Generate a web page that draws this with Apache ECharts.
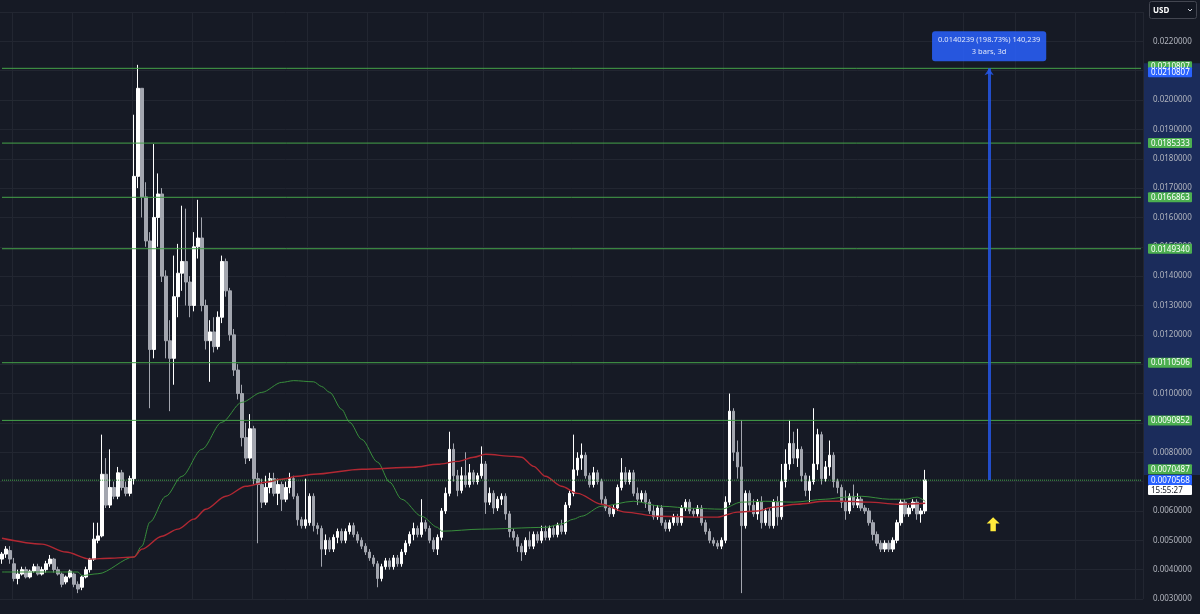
<!DOCTYPE html>
<html>
<head>
<meta charset="utf-8">
<script src="https://cdn.jsdelivr.net/npm/echarts@6/dist/echarts.min.js"></script>
<style>
html, body { margin: 0; padding: 0; background: #161a25; }
#chart { width: 1200px; height: 614px; }
</style>
</head>
<body>
<div id="chart"></div>
<script>
// daily candles: [open, close, low, high]
const candles = [
  [0.00436,0.00453,0.0042,0.0046],[0.00453,0.0047,0.0044,0.0048],[0.00465,0.00436,0.0042,0.0048],[0.0042,0.0037,0.0036,0.0044],
  [0.0037,0.00385,0.0035,0.0040],[0.00385,0.0040,0.0038,0.0041],[0.0040,0.00375,0.0037,0.0041],[0.00375,0.00395,0.0037,0.0040],
  [0.00395,0.0041,0.0039,0.0042],[0.0041,0.00385,0.0038,0.0042],[0.00385,0.0040,0.0038,0.0041],[0.0040,0.0042,0.0039,0.0043],
  [0.0042,0.00436,0.0041,0.0045],[0.00436,0.0040,0.0039,0.0044],[0.0040,0.00385,0.0038,0.0041],[0.00385,0.0035,0.0034,0.0039],
  [0.00358,0.00375,0.0035,0.0038],[0.00375,0.00395,0.0037,0.0040],[0.00385,0.0035,0.0034,0.0039],[0.0035,0.00334,0.0032,0.0036],
  [0.0034,0.00375,0.0033,0.0038],[0.00375,0.0040,0.0037,0.0041],[0.0040,0.00436,0.0039,0.0044],[0.00436,0.00504,0.0043,0.0056],
  [0.0050,0.00515,0.0049,0.0056],[0.00515,0.00725,0.0051,0.0086],[0.00725,0.0062,0.0061,0.0078],[0.0062,0.0068,0.0061,0.0081],
  [0.0068,0.0065,0.0064,0.0070],[0.0065,0.0073,0.0064,0.0075],[0.0073,0.0068,0.0067,0.0074],[0.0068,0.0066,0.0065,0.0070],
  [0.0066,0.0071,0.0065,0.0072],[0.0071,0.0174,0.0069,0.0195],[0.0174,0.0204,0.0170,0.0212],[0.0204,0.0167,0.0160,0.0204],
  [0.0167,0.0152,0.0150,0.0172],[0.0152,0.0115,0.0095,0.0155],[0.0115,0.0160,0.0112,0.0185],[0.0160,0.0168,0.0150,0.0175],
  [0.0168,0.0140,0.0138,0.0170],[0.0140,0.0118,0.0112,0.0142],[0.0118,0.0112,0.0094,0.0125],[0.0112,0.0133,0.0103,0.0147],
  [0.0133,0.0141,0.0126,0.0151],[0.0141,0.0145,0.0135,0.0164],[0.0145,0.0138,0.0130,0.0163],[0.0138,0.0130,0.0126,0.0140],
  [0.0130,0.0150,0.0128,0.0155],[0.0150,0.0153,0.0146,0.0166],[0.0153,0.0130,0.0128,0.0160],[0.0130,0.0118,0.0115,0.0132],
  [0.0118,0.0121,0.0104,0.0125],[0.0121,0.0116,0.0114,0.0126],[0.0116,0.0126,0.0115,0.0128],[0.0126,0.0145,0.0124,0.0147],
  [0.0145,0.0135,0.0133,0.0146],[0.0135,0.0120,0.0118,0.0136],[0.0120,0.0108,0.0106,0.0122],[0.0108,0.0100,0.0098,0.0110],
  [0.0100,0.0085,0.0082,0.0103],[0.0085,0.0078,0.0076,0.0090],[0.0078,0.0088,0.0077,0.0093],[0.0088,0.0071,0.0069,0.0089],
  [0.0071,0.0069,0.0049,0.0073],[0.0069,0.0063,0.0061,0.0071],[0.0063,0.0068,0.0062,0.0072],[0.0068,0.0071,0.0066,0.0073],
  [0.0071,0.0066,0.0065,0.0073],[0.0066,0.0069,0.0062,0.0071],[0.0069,0.0064,0.0060,0.0070],[0.0064,0.0068,0.0063,0.0070],
  [0.0068,0.0071,0.0066,0.0073],[0.0071,0.0065,0.0064,0.0072],[0.0065,0.0057,0.0055,0.0066],[0.0057,0.0055,0.0054,0.0058],
  [0.0055,0.0057,0.0054,0.0071],[0.0056,0.0065,0.0055,0.0066],[0.0065,0.0055,0.0053,0.0066],[0.0055,0.0054,0.0052,0.0056],
  [0.0054,0.0047,0.0041,0.0055],[0.0047,0.0050,0.0045,0.0052],[0.0050,0.0047,0.0046,0.0051],[0.0047,0.0051,0.0046,0.0052],
  [0.0051,0.0053,0.0049,0.0054],[0.0053,0.0050,0.0049,0.0054],[0.0050,0.0053,0.0049,0.0054],[0.0053,0.0055,0.0052,0.0056],
  [0.0055,0.0052,0.0051,0.0056],[0.0052,0.0050,0.0049,0.0053],[0.0050,0.0048,0.0047,0.0051],[0.0048,0.0046,0.0045,0.0049],
  [0.0046,0.0044,0.0043,0.0047],[0.0044,0.0042,0.0041,0.0045],[0.0042,0.0037,0.0034,0.0043],[0.0037,0.0041,0.0036,0.0042],
  [0.0041,0.0043,0.0040,0.0044],[0.0043,0.0041,0.0040,0.0044],[0.0041,0.0044,0.0040,0.0045],[0.0044,0.0042,0.0041,0.0045],
  [0.0042,0.0046,0.0041,0.0047],[0.0046,0.0049,0.0045,0.0050],[0.0049,0.0052,0.0048,0.0053],[0.0052,0.0054,0.0050,0.0056],
  [0.0054,0.0052,0.0051,0.0055],[0.0052,0.0056,0.0051,0.0064],[0.0056,0.0054,0.0053,0.0057],[0.0054,0.0050,0.0049,0.0055],
  [0.0050,0.0047,0.0046,0.0051],[0.0047,0.0051,0.0045,0.0052],[0.0051,0.0060,0.0050,0.0061],[0.0060,0.0066,0.0059,0.0068],
  [0.0066,0.0081,0.0065,0.0087],[0.0081,0.0072,0.0070,0.0083],[0.0072,0.0067,0.0065,0.0074],[0.0067,0.0072,0.0066,0.0075],
  [0.0072,0.0069,0.0068,0.0080],[0.0069,0.0073,0.0068,0.0076],[0.0073,0.0070,0.0069,0.0074],[0.0070,0.0072,0.0069,0.0073],
  [0.0072,0.0076,0.0071,0.0082],[0.0076,0.0063,0.0059,0.0077],[0.0063,0.0066,0.0062,0.0068],[0.0066,0.0061,0.0059,0.0067],
  [0.0061,0.0064,0.0060,0.0065],[0.0064,0.0065,0.0062,0.0066],[0.0065,0.0059,0.0057,0.0066],[0.0059,0.0053,0.0051,0.0060],
  [0.0053,0.0051,0.0050,0.0054],[0.0051,0.0048,0.0046,0.0052],[0.0048,0.0046,0.0043,0.0049],[0.0046,0.0050,0.0045,0.0051],
  [0.0050,0.0048,0.0047,0.0053],[0.0048,0.0052,0.0047,0.0053],[0.0052,0.0050,0.0049,0.0053],[0.0050,0.0053,0.0049,0.0055],
  [0.0053,0.0051,0.0050,0.0055],[0.0051,0.0054,0.0050,0.0055],[0.0054,0.0052,0.0051,0.0055],[0.0052,0.0055,0.0051,0.0056],
  [0.0055,0.0053,0.0052,0.0057],[0.0053,0.0062,0.0052,0.0063],[0.0062,0.0066,0.0061,0.0067],[0.0066,0.0074,0.0065,0.0086],
  [0.0074,0.0078,0.0072,0.0080],[0.0078,0.0079,0.0074,0.0083],[0.0079,0.0072,0.0071,0.0080],[0.0072,0.0069,0.0068,0.0073],
  [0.0069,0.0073,0.0068,0.0075],[0.0073,0.0070,0.0069,0.0074],[0.0070,0.0064,0.0062,0.0071],[0.0064,0.0061,0.0060,0.0065],
  [0.0061,0.0059,0.0058,0.0062],[0.0059,0.0061,0.0058,0.0062],[0.0061,0.0068,0.0060,0.0069],[0.0068,0.0073,0.0067,0.0078],
  [0.0073,0.0070,0.0069,0.0075],[0.0070,0.0073,0.0069,0.0074],[0.0073,0.0066,0.0065,0.0074],[0.0066,0.0064,0.0062,0.0068],
  [0.0064,0.0066,0.0063,0.0067],[0.0066,0.0063,0.0061,0.0067],[0.0063,0.0060,0.0059,0.0064],[0.0060,0.0058,0.0057,0.0062],
  [0.0058,0.0061,0.0057,0.0062],[0.0061,0.0056,0.0055,0.0062],[0.0056,0.0054,0.0053,0.0057],[0.0054,0.0056,0.0053,0.0057],
  [0.0056,0.0058,0.0055,0.0059],[0.0058,0.0056,0.0055,0.0059],[0.0056,0.0061,0.0055,0.0062],[0.0061,0.0063,0.0060,0.0064],
  [0.0063,0.0060,0.0059,0.0064],[0.0060,0.0059,0.0058,0.0061],[0.0059,0.0061,0.0058,0.0062],[0.0061,0.0056,0.0055,0.0062],
  [0.0056,0.0053,0.0052,0.0057],[0.0053,0.0050,0.0049,0.0054],[0.0050,0.0049,0.0048,0.0051],[0.0049,0.0048,0.0047,0.0050],
  [0.0048,0.0050,0.0047,0.0051],[0.0050,0.0063,0.0049,0.0065],[0.0063,0.0094,0.0062,0.0100],[0.0094,0.0080,0.0077,0.0095],
  [0.0080,0.0075,0.0071,0.0084],[0.0075,0.0055,0.0032,0.0091],[0.0055,0.0066,0.0054,0.0067],[0.0066,0.0062,0.0060,0.0067],
  [0.0062,0.0059,0.0058,0.0064],[0.0059,0.0063,0.0057,0.0064],[0.0063,0.0056,0.0054,0.0065],[0.0056,0.0060,0.0055,0.0061],
  [0.0060,0.0055,0.0054,0.0061],[0.0055,0.0063,0.0054,0.0064],[0.0063,0.0058,0.0055,0.0065],[0.0058,0.0070,0.0057,0.0076],
  [0.0070,0.0076,0.0068,0.0081],[0.0076,0.0083,0.0074,0.0091],[0.0083,0.0078,0.0076,0.0087],[0.0078,0.0081,0.0075,0.0088],
  [0.0081,0.0072,0.0070,0.0082],[0.0072,0.0067,0.0065,0.0073],[0.0067,0.0070,0.0063,0.0072],[0.0070,0.0076,0.0069,0.0095],
  [0.0076,0.0086,0.0074,0.0088],[0.0086,0.0071,0.0069,0.0087],[0.0071,0.0075,0.0070,0.0077],[0.0075,0.0079,0.0072,0.0084],
  [0.0079,0.0070,0.0068,0.0080],[0.0070,0.0068,0.0066,0.0071],[0.0068,0.0063,0.0061,0.0069],[0.0063,0.0060,0.0057,0.0067],
  [0.0060,0.0065,0.0059,0.0066],[0.0065,0.0062,0.0061,0.0069],[0.0062,0.0064,0.0061,0.0066],[0.0064,0.0061,0.0060,0.0065],
  [0.0061,0.0060,0.0059,0.0062],[0.0060,0.0056,0.0055,0.0061],[0.0056,0.0052,0.0050,0.0057],[0.0052,0.0049,0.0048,0.0053],
  [0.0049,0.0047,0.0046,0.0050],[0.0047,0.0049,0.0046,0.0050],[0.0049,0.0047,0.0046,0.0050],[0.0047,0.0050,0.0046,0.0051],
  [0.0050,0.0056,0.0049,0.0057],[0.0056,0.0063,0.0055,0.0064],[0.0063,0.0059,0.0058,0.0064],[0.0059,0.0061,0.0058,0.0062],
  [0.0061,0.0063,0.0060,0.0064],[0.0063,0.0059,0.0057,0.0064],[0.0059,0.0060,0.0056,0.0061],[0.0060,0.0070568,0.0059,0.0074]
];

// moving averages: [candle index, value]
const maFast = [
  [0,0.00392],[19,0.00392],[20,0.00380],[24,0.00386],[33,0.00443],[35,0.0048],[37,0.00562],[41,0.0065],
  [45,0.00718],[50,0.0081],[55,0.00902],[60,0.0097],[65,0.01004],[70,0.01038],[73,0.01044],[78,0.0104],
  [80,0.01024],[82,0.01004],[85,0.00946],[87,0.00902],[90,0.00844],[94,0.00766],[97,0.00698],[100,0.0064],
  [105,0.00582],[109,0.00544],[110,0.00531],[120,0.00538],[136,0.00544],[140,0.00556],[143,0.00572],[145,0.00582],
  [150,0.00616],[158,0.00633],[165,0.00616],[173,0.00609],[180,0.00606],[185,0.0063],[191,0.00633],[198,0.0063],
  [206,0.0064],[211,0.00647],[215,0.0065],[222,0.0064],[226,0.0064],[229,0.00647],[231,0.00633]
];
const maSlow = [
  [0,0.00507],[10,0.00487],[16,0.0046],[22,0.00436],[27,0.00439],[33,0.00443],[35,0.0047],[40,0.00514],
  [44,0.00538],[48,0.00572],[51,0.00606],[56,0.0065],[61,0.00684],[66,0.00698],[70,0.00708],[74,0.00718],
  [78,0.00725],[90,0.00742],[103,0.00749],[109,0.00759],[114,0.00769],[118,0.00783],[121,0.00793],[128,0.00786],
  [130,0.00783],[133,0.00752],[136,0.00718],[140,0.00684],[144,0.0066],[150,0.00623],[156,0.00596],[164,0.00582],
  [174,0.00579],[179,0.00579],[184,0.00596],[189,0.006],[193,0.00613],[199,0.00623],[206,0.00633],[211,0.00633],
  [217,0.0063],[224,0.00623],[231,0.00626]
];

const levels = [0.0210807, 0.0185333, 0.0166863, 0.014934, 0.0110506, 0.0090852, 0.0070487];
const dottedLevel = 0.0070487;
const lastPrice = 0.0070568;
const countdown = '15:55:27';
const measureIdx = 247;
const measureFrom = 0.0070568;
const measureTo = 0.0210807;
const measureText = ['0.0140239 (198.73%) 140,239', '3 bars, 3d'];
const arrowPoint = [248, 0.00555];
const monthCols = [3, 18, 33, 48, 63, 77, 92, 107, 121, 136, 151, 166, 181, 196, 211, 226, 241, 254, 269, 284];
const slotCount = 286;

const chart = echarts.init(document.getElementById('chart'));
const cats = [];
for (let i = 0; i < slotCount; i++) cats.push(String(i));

const font = '"Noto Sans", "DejaVu Sans", sans-serif';
const levelGreen = '#45a349';

const measureLabel = {
  show: true, position: 'end', distance: 7,
  formatter: measureText.join('\n'),
  color: '#ffffff', fontSize: 7.5, fontFamily: font, lineHeight: 12,
  align: 'center', backgroundColor: '#2962ff', borderRadius: 3, padding: [3, 6]
};
const measureStyle = { color: '#2457e6', width: 3, type: 'solid', opacity: 0.85 };

// one flat line series per drawn level
const levelSeries = levels.map(v => ({
  type: 'line',
  data: [[0, v], [slotCount - 1, v]],
  symbol: 'none',
  silent: true,
  z: 3,
  lineStyle: { color: levelGreen, width: 1, type: v === dottedLevel ? 'dotted' : 'solid' },
  emphasis: { disabled: true }
}));

chart.setOption({
  backgroundColor: '#161a25',
  animation: false,
  grid: { left: 0, right: 57, top: 12, bottom: 15 },
  xAxis: {
    type: 'category',
    data: cats,
    boundaryGap: true,
    axisLine: { show: false },
    axisTick: { show: false },
    axisLabel: { show: false },
    splitLine: {
      show: true,
      interval: (i) => monthCols.indexOf(i) > -1,
      lineStyle: { color: '#222631', width: 1 }
    }
  },
  yAxis: {
    type: 'value',
    position: 'right',
    min: 0.003,
    max: 0.023,
    interval: 0.001,
    axisLine: { show: false },
    axisTick: { show: false },
    axisLabel: {
      color: '#b2b5be', fontSize: 8, fontFamily: font, margin: 10,
      formatter: (v) => (v > 0.0225 ? '' : v.toFixed(7))
    },
    splitLine: { lineStyle: { color: '#222631', width: 1 } }
  },
  series: [
    {
      type: 'candlestick',
      data: candles,
      barWidth: 3,
      itemStyle: {
        color: '#ffffff', color0: '#a3a6af',
        borderColor: '#ffffff', borderColor0: '#a3a6af', borderWidth: 1
      }
    },
    {
      type: 'line', data: maFast, smooth: 0.3, smoothMonotone: 'x', symbol: 'none',
      lineStyle: { color: '#388e3c', width: 1 }, silent: true
    },
    {
      type: 'line', data: maSlow, smooth: 0.3, smoothMonotone: 'x', symbol: 'none',
      lineStyle: { color: '#b22833', width: 1.4 }, silent: true,
      markLine: {
        silent: true,
        animation: false,
        precision: 7,
        symbol: 'none',
        data: [[
          { coord: [measureIdx, measureFrom], symbol: 'none', lineStyle: measureStyle, label: measureLabel },
          { coord: [measureIdx, measureTo], symbol: 'arrow', symbolSize: [7, 7], lineStyle: measureStyle, label: measureLabel }
        ]]
      },
      markPoint: {
        silent: true,
        animation: false,
        label: { show: false },
        data: [{
          coord: arrowPoint,
          symbol: 'path://M6,0 L12,6 L8.5,6 L8.5,13 L3.5,13 L3.5,6 L0,6 Z',
          symbolSize: [13, 14],
          itemStyle: { color: '#ffeb3b' }
        }]
      }
    }
  ].concat(levelSeries)
});

// price tags on the right scale
const yPix = (v) => chart.convertToPixel({ yAxisIndex: 0 }, v);
const tagX = 1148, tagW = 44, tagH = 10;
const els = [];

els.push({
  type: 'rect', z: -5, silent: true,
  shape: { x: 1143, y: yPix(measureTo) - 5, width: 57, height: yPix(measureFrom) - yPix(measureTo) },
  style: { fill: '#1b2c5b' }
});

function tag(v, dy, bg, fg, text) {
  const cy = yPix(v) + dy;
  els.push({
    type: 'rect', z: 50, silent: true,
    shape: { x: tagX, y: cy - tagH / 2, width: tagW, height: tagH, r: 1 },
    style: { fill: bg }
  });
  els.push({
    type: 'text', z: 51, silent: true,
    style: { text: text, x: tagX + 3, y: cy + 0.5, fill: fg, font: '8px ' + font, verticalAlign: 'middle', align: 'left' }
  });
}

levels.forEach(v => {
  if (v === dottedLevel) tag(v, -11, '#4caf50', '#ffffff', v.toFixed(7));
  else if (v === measureTo) tag(v, -2, '#4caf50', '#ffffff', v.toFixed(7));
  else tag(v, 0, '#4caf50', '#ffffff', v.toFixed(7));
});
tag(measureTo, 4, '#2962ff', '#ffffff', measureTo.toFixed(7));
tag(lastPrice, 0, '#2962ff', '#ffffff', lastPrice.toFixed(7));
tag(lastPrice, 10, '#ffffff', '#131722', countdown);

// currency box
els.push({
  type: 'rect', z: 50, silent: true,
  shape: { x: 1149.5, y: 1.5, width: 47, height: 17, r: 2 },
  style: { fill: '#131722', stroke: '#434651', lineWidth: 1 }
});
els.push({
  type: 'text', z: 51, silent: true,
  style: { text: 'USD', x: 1153, y: 10.5, fill: '#ffffff', font: 'bold 8px ' + font, verticalAlign: 'middle' }
});
els.push({
  type: 'polyline', z: 51, silent: true,
  shape: { points: [[1188, 9], [1190, 11], [1192, 9]] },
  style: { stroke: '#d1d4dc', lineWidth: 1, fill: 'none' }
});

chart.setOption({ graphic: { elements: els } });
</script>
</body>
</html>
